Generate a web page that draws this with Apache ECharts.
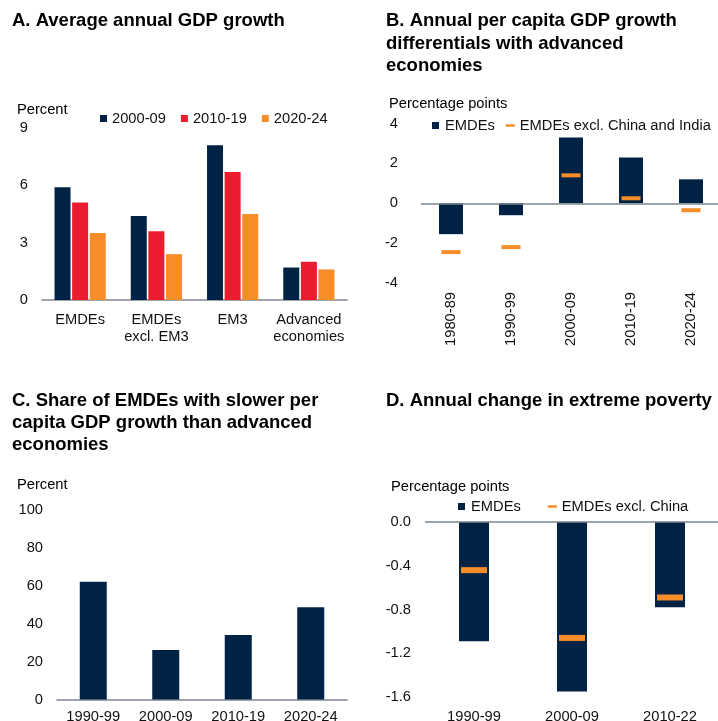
<!DOCTYPE html>
<html>
<head>
<meta charset="utf-8">
<script src="https://cdn.jsdelivr.net/npm/echarts@6/dist/echarts.min.js"></script>
<style>
  html, body { margin: 0; padding: 0; background: #fff; }
  #chart { width: 718px; height: 721px; }
</style>
</head>
<body>
<div id="chart"></div>
<script>
// Panel A: average annual GDP growth (percent)
const groupsA = ['EMDEs', 'EMDEs\nexcl. EM3', 'EM3', 'Advanced\neconomies'];
const growth2000s = [5.9, 4.4, 8.1, 1.7];
const growth2010s = [5.1, 3.6, 6.7, 2.0];
const growth2020s = [3.5, 2.4, 4.5, 1.6];
const seriesNamesA = ['2000-09', '2010-19', '2020-24'];
const ticksA = { min: 0, max: 9, step: 3 };

// Panel B: per capita growth differential vs advanced economies (pp)
const periodsB = ['1980-89', '1990-99', '2000-09', '2010-19', '2020-24'];
const diffEMDEs = [-1.55, -0.6, 3.3, 2.3, 1.2];
const diffExChinaIndia = [-2.45, -2.2, 1.4, 0.25, -0.35];
const ticksB = { min: -4, max: 4, step: 2 };

// Panel C: share of EMDEs growing slower than advanced economies (percent)
const periodsC = ['1990-99', '2000-09', '2010-19', '2020-24'];
const shareSlower = [62, 26, 34, 48.5];
const ticksC = { min: 0, max: 100, step: 20 };

// Panel D: annual change in extreme poverty (pp)
const periodsD = ['1990-99', '2000-09', '2010-22'];
const povertyEMDEs = [-1.09, -1.55, -0.78];
const povertyExChina = [-0.44, -1.06, -0.69];
const ticksD = { min: -1.6, max: 0, step: 0.4 };

const NAVY = '#002345', RED = '#EB1C2D', ORANGE = '#F78D28';
const AXIS_GRAY = '#7d8791';
const FONT = "'Liberation Sans', Arial, sans-serif";
const TXT = '#111';

const chart = echarts.init(document.getElementById('chart'), null, { renderer: 'canvas' });

function yAxisCfg(gridIndex, t, margin, fmt) {
  return {
    type: 'value', gridIndex, min: t.min, max: t.max, interval: t.step,
    axisLine: { show: false }, axisTick: { show: false }, splitLine: { show: false },
    axisLabel: { color: TXT, fontFamily: FONT, fontSize: 14.7, margin, formatter: fmt }
  };
}
function xAxisCfg(gridIndex, cats, extra) {
  return Object.assign({
    type: 'category', gridIndex, data: cats, position: 'bottom',
    axisLine: { show: false, onZero: false }, axisTick: { show: false },
    axisLabel: { color: TXT, fontFamily: FONT, fontSize: 14.7, interval: 0 }
  }, extra || {});
}
const zeroLine = {
  silent: true, symbol: 'none', label: { show: false },
  lineStyle: { color: AXIS_GRAY, width: 1.6, type: 'solid' },
  data: [{ yAxis: 0 }]
};
const legendText = { color: TXT, fontFamily: FONT, fontSize: 14.7 };

function textEl(x, y, text, bold, size, lh) {
  return {
    type: 'text', x, y, silent: true,
    style: {
      text, fill: '#000', verticalAlign: 'top', align: 'left',
      font: (bold ? 'bold ' : '') + size + 'px ' + FONT, lineHeight: lh
    }
  };
}
// fixed plot areas: labels may run past the canvas edge
function gridAt(left, right, top, bottom) {
  return { left, right, top, bottom, containLabel: false, outerBoundsMode: 'none' };
}

const option = {
  animation: false,
  backgroundColor: '#fff',
  graphic: [
    textEl(12, 10, 'A. Average annual GDP growth', true, 18.5, 22.5),
    textEl(386, 10, 'B. Annual per capita GDP growth\ndifferentials with advanced\neconomies', true, 18.5, 22.5),
    textEl(12, 389.5, 'C. Share of EMDEs with slower per\ncapita GDP growth than advanced\neconomies', true, 18.5, 22),
    textEl(386, 390, 'D. Annual change in extreme poverty', true, 18.5, 22.5),
    textEl(17, 102, 'Percent', false, 14.7, 16),
    textEl(389, 96, 'Percentage points', false, 14.7, 16),
    textEl(17, 477, 'Percent', false, 14.7, 16),
    textEl(391, 479, 'Percentage points', false, 14.7, 16)
  ],
  legend: [
    {
      left: 100, top: 111, padding: 0, itemWidth: 7, itemHeight: 7, itemGap: 15, icon: 'rect',
      width: 400, textStyle: legendText, data: seriesNamesA, selectedMode: false
    },
    {
      left: 432, top: 118, padding: 0, itemWidth: 9, itemHeight: 7, itemGap: 11, selectedMode: false,
      width: 400, textStyle: legendText,
      data: [
        { name: 'EMDEs', icon: 'path://M0,0H7V7H0Z' },
        { name: 'EMDEs excl. China and India', icon: 'path://M0,0H9V2.5H0Z' }
      ]
    },
    {
      left: 458, top: 499, padding: 0, itemWidth: 9, itemHeight: 7, itemGap: 27, selectedMode: false,
      width: 400, textStyle: legendText,
      data: [
        { name: 'EMDEs', icon: 'path://M0,0H7V7H0Z' },
        { name: 'EMDEs excl. China', icon: 'path://M0,0H9V2.5H0Z' }
      ]
    }
  ],
  grid: [
    gridAt(42, 371, 128, 421),
    gridAt(421, -3, 123.5, 438),
    gridAt(57, 371, 509.5, 21.5),
    gridAt(425, -1, 522, 24)
  ],
  xAxis: [
    xAxisCfg(0, groupsA, {
      axisLine: { show: true, onZero: false, lineStyle: { color: AXIS_GRAY, width: 1.6 } },
      axisLabel: { color: TXT, fontFamily: FONT, fontSize: 14.7, interval: 0, margin: 11, lineHeight: 17 }
    }),
    xAxisCfg(1, periodsB, {
      axisLabel: { color: TXT, fontFamily: FONT, fontSize: 14.7, interval: 0, rotate: 90, margin: 9 }
    }),
    xAxisCfg(2, periodsC, {
      axisLine: { show: true, onZero: false, lineStyle: { color: AXIS_GRAY, width: 1.6 } },
      axisLabel: { color: TXT, fontFamily: FONT, fontSize: 14.7, interval: 0, margin: 10 }
    }),
    xAxisCfg(3, periodsD, {
      axisLabel: { color: TXT, fontFamily: FONT, fontSize: 14.7, interval: 0, margin: 12 }
    })
  ],
  yAxis: [
    yAxisCfg(0, ticksA, 14),
    yAxisCfg(1, ticksB, 23),
    yAxisCfg(2, ticksC, 14),
    yAxisCfg(3, ticksD, 14, v => v.toFixed(1))
  ],
  series: [
    { name: seriesNamesA[0], type: 'bar', xAxisIndex: 0, yAxisIndex: 0, data: growth2000s,
      barWidth: 16, barGap: '10%', itemStyle: { color: NAVY } },
    { name: seriesNamesA[1], type: 'bar', xAxisIndex: 0, yAxisIndex: 0, data: growth2010s,
      barWidth: 16, barGap: '10%', itemStyle: { color: RED } },
    { name: seriesNamesA[2], type: 'bar', xAxisIndex: 0, yAxisIndex: 0, data: growth2020s,
      barWidth: 16, barGap: '10%', itemStyle: { color: ORANGE } },

    { name: 'EMDEs', type: 'bar', xAxisIndex: 1, yAxisIndex: 1, data: diffEMDEs,
      barWidth: 24, itemStyle: { color: NAVY }, markLine: zeroLine, z: 2 },
    { name: 'EMDEs excl. China and India', type: 'scatter', xAxisIndex: 1, yAxisIndex: 1,
      data: diffExChinaIndia, symbol: 'rect', symbolSize: [19, 4],
      itemStyle: { color: ORANGE, opacity: 1 }, z: 5 },

    { name: 'Share', type: 'bar', xAxisIndex: 2, yAxisIndex: 2, data: shareSlower,
      barWidth: 27, itemStyle: { color: NAVY } },

    { name: 'EMDEs', type: 'bar', xAxisIndex: 3, yAxisIndex: 3, data: povertyEMDEs,
      barWidth: 30, itemStyle: { color: NAVY }, markLine: zeroLine, z: 2 },
    { name: 'EMDEs excl. China', type: 'scatter', xAxisIndex: 3, yAxisIndex: 3,
      data: povertyExChina, symbol: 'rect', symbolSize: [26, 6],
      itemStyle: { color: ORANGE, opacity: 1 }, z: 5 }
  ]
};

chart.setOption(option);
</script>
</body>
</html>
